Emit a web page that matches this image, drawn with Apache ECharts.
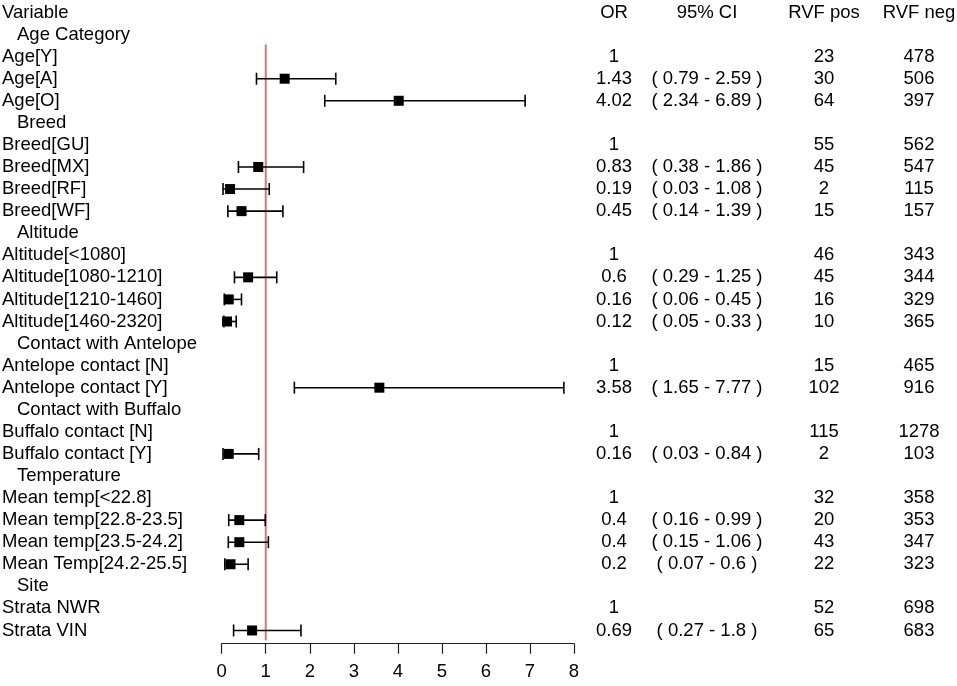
<!DOCTYPE html>
<html>
<head>
<meta charset="utf-8">
<script src="https://cdn.jsdelivr.net/npm/echarts@6/dist/echarts.min.js"></script>
<style>
  html, body { margin: 0; padding: 0; background: #fff; }
  #chart { width: 957px; height: 686px; }
</style>
</head>
<body>
<div id="chart"></div>
<script>
// table rows, top to bottom
const rowLabels = ['Variable', 'Age Category', 'Age[Y]', 'Age[A]', 'Age[O]',
  'Breed', 'Breed[GU]', 'Breed[MX]', 'Breed[RF]', 'Breed[WF]',
  'Altitude', 'Altitude[<1080]', 'Altitude[1080-1210]', 'Altitude[1210-1460]', 'Altitude[1460-2320]',
  'Contact with Antelope', 'Antelope contact [N]', 'Antelope contact [Y]',
  'Contact with Buffalo', 'Buffalo contact [N]', 'Buffalo contact [Y]',
  'Temperature', 'Mean temp[<22.8]', 'Mean temp[22.8-23.5]', 'Mean temp[23.5-24.2]', 'Mean Temp[24.2-25.5]',
  'Site', 'Strata NWR', 'Strata VIN'];
const groupRows = [1, 5, 10, 15, 18, 21, 26];
const orText = ['OR', '', '1', '1.43', '4.02', '', '1', '0.83', '0.19', '0.45', '', '1', '0.6', '0.16', '0.12',
  '', '1', '3.58', '', '1', '0.16', '', '1', '0.4', '0.4', '0.2', '', '1', '0.69'];
const ciText = ['95% CI', '', '', '( 0.79 - 2.59 )', '( 2.34 - 6.89 )', '', '', '( 0.38 - 1.86 )', '( 0.03 - 1.08 )',
  '( 0.14 - 1.39 )', '', '', '( 0.29 - 1.25 )', '( 0.06 - 0.45 )', '( 0.05 - 0.33 )', '', '', '( 1.65 - 7.77 )',
  '', '', '( 0.03 - 0.84 )', '', '', '( 0.16 - 0.99 )', '( 0.15 - 1.06 )', '( 0.07 - 0.6 )', '', '', '( 0.27 - 1.8 )'];
const rvfPos = ['RVF pos', '', '23', '30', '64', '', '55', '45', '2', '15', '', '46', '45', '16', '10',
  '', '15', '102', '', '115', '2', '', '32', '20', '43', '22', '', '52', '65'];
const rvfNeg = ['RVF neg', '', '478', '506', '397', '', '562', '547', '115', '157', '', '343', '344', '329', '365',
  '', '465', '916', '', '1278', '103', '', '358', '353', '347', '323', '', '698', '683'];

// estimates (non-reference rows)
const estRows = [3, 4, 7, 8, 9, 12, 13, 14, 17, 20, 23, 24, 25, 28];
const orEst = [1.43, 4.02, 0.83, 0.19, 0.45, 0.6, 0.16, 0.12, 3.58, 0.16, 0.4, 0.4, 0.2, 0.69];
const ciLow = [0.79, 2.34, 0.38, 0.03, 0.14, 0.29, 0.06, 0.05, 1.65, 0.03, 0.16, 0.15, 0.07, 0.27];
const ciHigh = [2.59, 6.89, 1.86, 1.08, 1.39, 1.25, 0.45, 0.33, 7.77, 0.84, 0.99, 1.06, 0.6, 1.8];
const xTicks = [0, 1, 2, 3, 4, 5, 6, 7, 8];

const FONT = 'Arial, "Liberation Sans", sans-serif';
const FS = 18.5;

const chart = echarts.init(document.getElementById('chart'));

const estData = estRows.map((r, i) => [orEst[i], r, ciLow[i], ciHigh[i]]);
const rowData = rowLabels.map((_, i) => [0, i]);

// column centres (px)
const cols = { label: 2, group: 17, or: 614, ci: 707, pos: 824, neg: 919 };

function txt(x, y, s, align) {
  return {
    type: 'text',
    style: { x: x, y: y, text: s, fill: '#000', font: FS + 'px ' + FONT, align: align, verticalAlign: 'middle' }
  };
}

chart.setOption({
  animation: false,
  grid: { left: 221.7, right: 383, top: 12.5, bottom: 42.3 },
  xAxis: {
    type: 'value', min: 0, max: 8, interval: 1, position: 'bottom',
    axisLine: { show: true, onZero: false, lineStyle: { color: '#222', width: 1.2 } },
    axisTick: { show: true, length: 10, lineStyle: { color: '#222', width: 1.2 } },
    axisLabel: {
      margin: 19, color: '#000', fontSize: FS, fontFamily: FONT,
      formatter: v => xTicks.includes(v) ? String(v) : ''
    },
    splitLine: { show: false }
  },
  yAxis: { type: 'value', min: 0, max: 28.6, inverse: true, show: false },
  series: [
    {
      // reference line at OR = 1
      type: 'custom',
      data: [[1, 1.45, 28.45]],
      renderItem: (params, api) => {
        const a = api.coord([api.value(0), api.value(1)]);
        const b = api.coord([api.value(0), api.value(2)]);
        return { type: 'line', shape: { x1: a[0], y1: a[1], x2: b[0], y2: b[1] },
          style: { stroke: '#d9747c', lineWidth: 2 } };
      }
    },
    {
      type: 'custom',
      data: estData,
      renderItem: (params, api) => {
        const p = api.coord([api.value(0), api.value(1)]);
        const lo = api.coord([api.value(2), api.value(1)]);
        const hi = api.coord([api.value(3), api.value(1)]);
        const y = p[1], cap = 6, box = 10;
        const st = { stroke: '#000', lineWidth: 1.6 };
        return {
          type: 'group',
          children: [
            { type: 'line', shape: { x1: lo[0], y1: y, x2: hi[0], y2: y }, style: st },
            { type: 'line', shape: { x1: lo[0], y1: y - cap, x2: lo[0], y2: y + cap }, style: st },
            { type: 'line', shape: { x1: hi[0], y1: y - cap, x2: hi[0], y2: y + cap }, style: st },
            { type: 'rect', shape: { x: p[0] - box / 2, y: y - box / 2, width: box, height: box }, style: { fill: '#000' } }
          ]
        };
      }
    },
    {
      // table text
      type: 'custom',
      data: rowData,
      renderItem: (params, api) => {
        const i = api.value(1);
        const y = api.coord([0, i])[1];
        const isGroup = groupRows.includes(i);
        return {
          type: 'group',
          children: [
            txt(isGroup ? cols.group : cols.label, y, rowLabels[i], 'left'),
            txt(cols.or, y, orText[i], 'center'),
            txt(cols.ci, y, ciText[i], 'center'),
            txt(cols.pos, y, rvfPos[i], 'center'),
            txt(cols.neg, y, rvfNeg[i], 'center')
          ]
        };
      }
    }
  ]
});
</script>
</body>
</html>
